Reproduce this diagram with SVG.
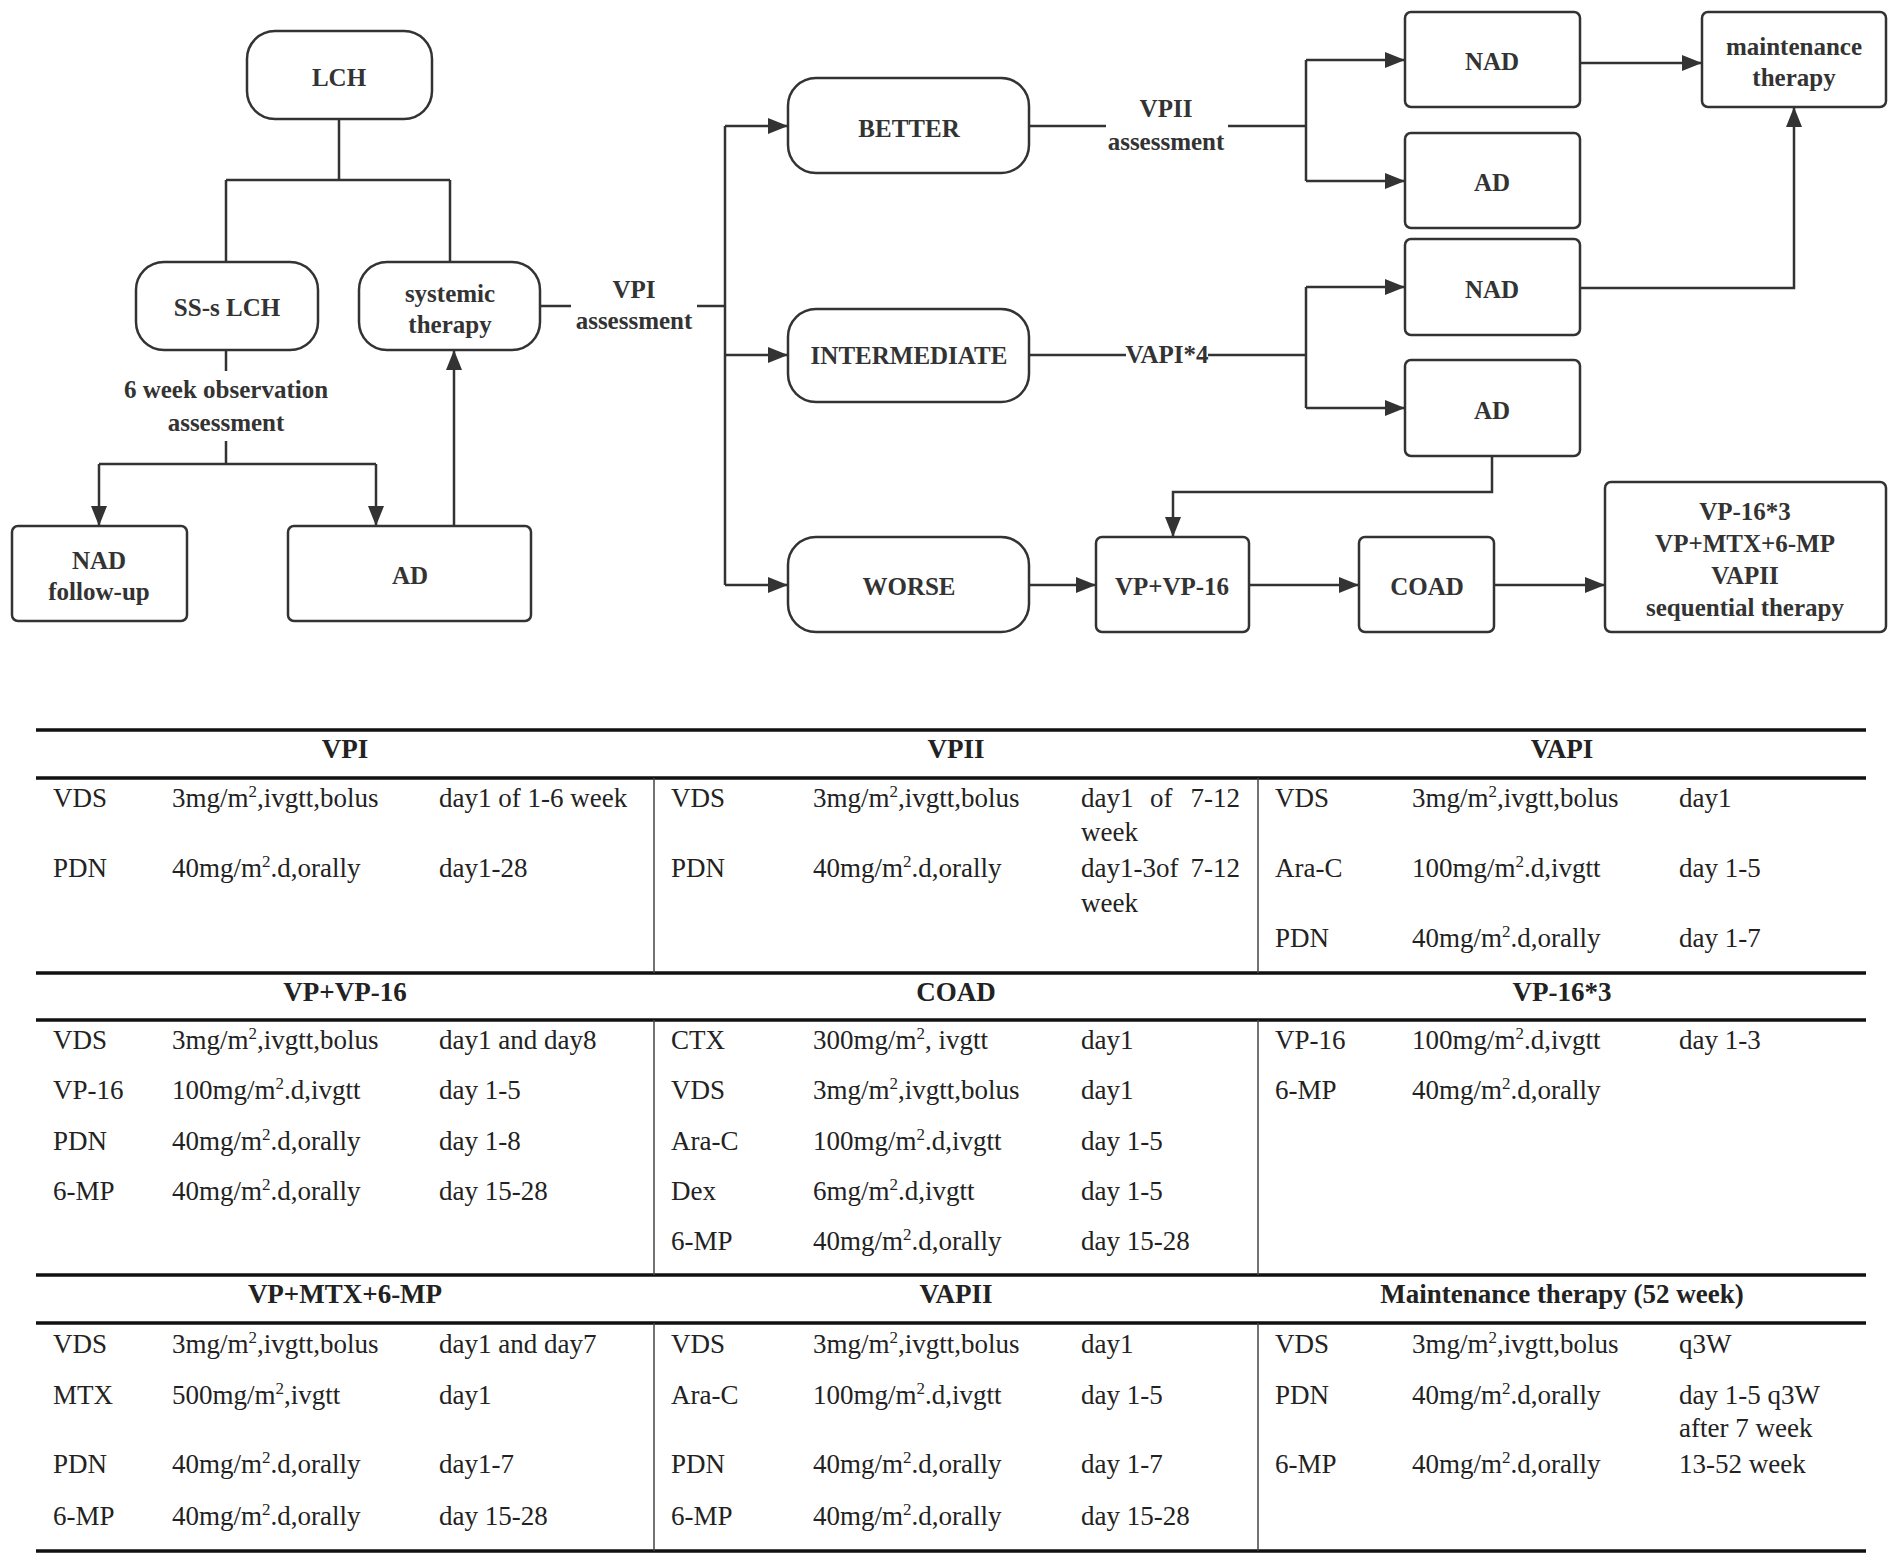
<svg xmlns="http://www.w3.org/2000/svg" width="1902" height="1561" viewBox="0 0 1902 1561">
<style>
.box{fill:#fff;stroke:#333;stroke-width:2.5}
.ft{font-family:"Liberation Serif","Times New Roman",serif;font-weight:bold;font-size:25px;fill:#333;text-anchor:middle}
.conn{stroke:#333;stroke-width:2.5;fill:none}
.arr{marker-end:url(#ah)}
.tb text{font-family:"Liberation Serif","Times New Roman",serif;font-size:27px;fill:#222}
.tb text.th{font-weight:bold;text-anchor:middle}
.tb text.end{text-anchor:end}
.thick{stroke:#111;stroke-width:3.5}
.thin{stroke:#444;stroke-width:1.5}
</style>
<defs>
<marker id="ah" markerUnits="userSpaceOnUse" markerWidth="20" markerHeight="16" refX="20" refY="8" orient="auto">
<path d="M0,0 L20,8 L0,16 z" fill="#333"/>
</marker>
</defs>
<rect width="1902" height="1561" fill="#fff"/>

<g id="connectors">
<path class="conn" d="M339,119 V180 M226,180 H450 M226,180 V262 M450,180 V262"/>
<path class="conn" d="M226,350 V371 M226,441 V464 M99,464 H376"/>
<path class="conn arr" d="M99,464 V526"/>
<path class="conn arr" d="M376,464 V526"/>
<path class="conn arr" d="M454,526 V350"/>
<path class="conn" d="M540,306 H571 M697,306 H725 M725,126 V585"/>
<path class="conn arr" d="M725,126 H788"/>
<path class="conn arr" d="M725,355 H788"/>
<path class="conn arr" d="M725,585 H788"/>
<path class="conn" d="M1029,126 H1106 M1228,126 H1306 M1306,60 V181"/>
<path class="conn arr" d="M1306,60 H1405"/>
<path class="conn arr" d="M1306,181 H1405"/>
<path class="conn arr" d="M1580,63 H1702"/>
<path class="conn arr" d="M1580,288 H1794 V107"/>
<path class="conn" d="M1029,355 H1126 M1208,355 H1306 M1306,287 V408"/>
<path class="conn arr" d="M1306,287 H1405"/>
<path class="conn arr" d="M1306,408 H1405"/>
<path class="conn arr" d="M1492,456 V492 H1173 V537"/>
<path class="conn arr" d="M1029,585 H1096"/>
<path class="conn arr" d="M1249,585 H1359"/>
<path class="conn arr" d="M1494,585 H1605"/>
<text class="ft" x="226" y="398">6 week observation</text>
<text class="ft" x="226" y="431">assessment</text>
<text class="ft" x="634" y="298">VPI</text>
<text class="ft" x="634" y="329">assessment</text>
<text class="ft" x="1166" y="117">VPII</text>
<text class="ft" x="1166" y="150">assessment</text>
<text class="ft" x="1167" y="363">VAPI*4</text>
</g>

<g id="n-lch"><rect class="box" x="247" y="31" width="185" height="88" rx="28"/><text class="ft" x="339" y="86">LCH</text></g>
<g id="n-sslch"><rect class="box" x="136" y="262" width="182" height="88" rx="28"/><text class="ft" x="227" y="316">SS-s LCH</text></g>
<g id="n-systemic"><rect class="box" x="359" y="262" width="181" height="88" rx="28"/><text class="ft" x="450" y="302">systemic</text><text class="ft" x="450" y="333">therapy</text></g>
<g id="n-nad-follow"><rect class="box" x="12" y="526" width="175" height="95" rx="6"/><text class="ft" x="99" y="569">NAD</text><text class="ft" x="99" y="600">follow-up</text></g>
<g id="n-ad-left"><rect class="box" x="288" y="526" width="243" height="95" rx="6"/><text class="ft" x="410" y="584">AD</text></g>
<g id="n-better"><rect class="box" x="788" y="78" width="241" height="95" rx="28"/><text class="ft" x="909" y="137">BETTER</text></g>
<g id="n-intermediate"><rect class="box" x="788" y="309" width="241" height="93" rx="28"/><text class="ft" x="909" y="364">INTERMEDIATE</text></g>
<g id="n-worse"><rect class="box" x="788" y="537" width="241" height="95" rx="28"/><text class="ft" x="909" y="595">WORSE</text></g>
<g id="n-nad1"><rect class="box" x="1405" y="12" width="175" height="95" rx="6"/><text class="ft" x="1492" y="70">NAD</text></g>
<g id="n-ad1"><rect class="box" x="1405" y="133" width="175" height="95" rx="6"/><text class="ft" x="1492" y="191">AD</text></g>
<g id="n-nad2"><rect class="box" x="1405" y="239" width="175" height="96" rx="6"/><text class="ft" x="1492" y="298">NAD</text></g>
<g id="n-ad2"><rect class="box" x="1405" y="360" width="175" height="96" rx="6"/><text class="ft" x="1492" y="419">AD</text></g>
<g id="n-maint"><rect class="box" x="1702" y="12" width="184" height="95" rx="6"/><text class="ft" x="1794" y="55">maintenance</text><text class="ft" x="1794" y="86">therapy</text></g>
<g id="n-vpvp16"><rect class="box" x="1096" y="537" width="153" height="95" rx="6"/><text class="ft" x="1172" y="595">VP+VP-16</text></g>
<g id="n-coad"><rect class="box" x="1359" y="537" width="135" height="95" rx="6"/><text class="ft" x="1427" y="595">COAD</text></g>
<g id="n-seq"><rect class="box" x="1605" y="482" width="281" height="150" rx="6"/><text class="ft" x="1745" y="520">VP-16*3</text><text class="ft" x="1745" y="552">VP+MTX+6-MP</text><text class="ft" x="1745" y="584">VAPII</text><text class="ft" x="1745" y="616">sequential therapy</text></g>

<g id="table" class="tb">
<g id="table-lines">
<path class="thick" d="M36,730 H1866 M36,778 H1866 M36,973 H1866 M36,1020 H1866 M36,1275 H1866 M36,1323 H1866 M36,1551 H1866"/>
<path class="thin" d="M654,778 V973 M1258,778 V973 M654,1020 V1275 M1258,1020 V1275 M654,1323 V1551 M1258,1323 V1551"/>
</g>
<text class="th" x="345" y="758">VPI</text>
<text class="th" x="956" y="758">VPII</text>
<text class="th" x="1562" y="758">VAPI</text>
<text x="53" y="807">VDS</text><text x="172" y="807">3mg/m<tspan dy="-10" font-size="17">2</tspan><tspan dy="10">,ivgtt,bolus</tspan></text><text x="439" y="807">day1 of 1-6 week</text>
<text x="53" y="877">PDN</text><text x="172" y="877">40mg/m<tspan dy="-10" font-size="17">2</tspan><tspan dy="10">.d,orally</tspan></text><text x="439" y="877">day1-28</text>
<text x="671" y="807">VDS</text><text x="813" y="807">3mg/m<tspan dy="-10" font-size="17">2</tspan><tspan dy="10">,ivgtt,bolus</tspan></text><text x="1081" y="807">day1</text><text x="1150" y="807">of</text><text class="end" x="1240" y="807">7-12</text><text x="1081" y="841">week</text>
<text x="671" y="877">PDN</text><text x="813" y="877">40mg/m<tspan dy="-10" font-size="17">2</tspan><tspan dy="10">.d,orally</tspan></text><text x="1081" y="877">day1-3of</text><text class="end" x="1240" y="877">7-12</text><text x="1081" y="912">week</text>
<text x="1275" y="807">VDS</text><text x="1412" y="807">3mg/m<tspan dy="-10" font-size="17">2</tspan><tspan dy="10">,ivgtt,bolus</tspan></text><text x="1679" y="807">day1</text>
<text x="1275" y="877">Ara-C</text><text x="1412" y="877">100mg/m<tspan dy="-10" font-size="17">2</tspan><tspan dy="10">.d,ivgtt</tspan></text><text x="1679" y="877">day 1-5</text>
<text x="1275" y="947">PDN</text><text x="1412" y="947">40mg/m<tspan dy="-10" font-size="17">2</tspan><tspan dy="10">.d,orally</tspan></text><text x="1679" y="947">day 1-7</text>

<text class="th" x="345" y="1001">VP+VP-16</text>
<text class="th" x="956" y="1001">COAD</text>
<text class="th" x="1562" y="1001">VP-16*3</text>
<text x="53" y="1049">VDS</text><text x="172" y="1049">3mg/m<tspan dy="-10" font-size="17">2</tspan><tspan dy="10">,ivgtt,bolus</tspan></text><text x="439" y="1049">day1 and day8</text>
<text x="53" y="1099">VP-16</text><text x="172" y="1099">100mg/m<tspan dy="-10" font-size="17">2</tspan><tspan dy="10">.d,ivgtt</tspan></text><text x="439" y="1099">day 1-5</text>
<text x="53" y="1150">PDN</text><text x="172" y="1150">40mg/m<tspan dy="-10" font-size="17">2</tspan><tspan dy="10">.d,orally</tspan></text><text x="439" y="1150">day 1-8</text>
<text x="53" y="1200">6-MP</text><text x="172" y="1200">40mg/m<tspan dy="-10" font-size="17">2</tspan><tspan dy="10">.d,orally</tspan></text><text x="439" y="1200">day 15-28</text>
<text x="671" y="1049">CTX</text><text x="813" y="1049">300mg/m<tspan dy="-10" font-size="17">2</tspan><tspan dy="10">, ivgtt</tspan></text><text x="1081" y="1049">day1</text>
<text x="671" y="1099">VDS</text><text x="813" y="1099">3mg/m<tspan dy="-10" font-size="17">2</tspan><tspan dy="10">,ivgtt,bolus</tspan></text><text x="1081" y="1099">day1</text>
<text x="671" y="1150">Ara-C</text><text x="813" y="1150">100mg/m<tspan dy="-10" font-size="17">2</tspan><tspan dy="10">.d,ivgtt</tspan></text><text x="1081" y="1150">day 1-5</text>
<text x="671" y="1200">Dex</text><text x="813" y="1200">6mg/m<tspan dy="-10" font-size="17">2</tspan><tspan dy="10">.d,ivgtt</tspan></text><text x="1081" y="1200">day 1-5</text>
<text x="671" y="1250">6-MP</text><text x="813" y="1250">40mg/m<tspan dy="-10" font-size="17">2</tspan><tspan dy="10">.d,orally</tspan></text><text x="1081" y="1250">day 15-28</text>
<text x="1275" y="1049">VP-16</text><text x="1412" y="1049">100mg/m<tspan dy="-10" font-size="17">2</tspan><tspan dy="10">.d,ivgtt</tspan></text><text x="1679" y="1049">day 1-3</text>
<text x="1275" y="1099">6-MP</text><text x="1412" y="1099">40mg/m<tspan dy="-10" font-size="17">2</tspan><tspan dy="10">.d,orally</tspan></text>

<text class="th" x="345" y="1303">VP+MTX+6-MP</text>
<text class="th" x="956" y="1303">VAPII</text>
<text class="th" x="1562" y="1303">Maintenance therapy (52 week)</text>
<text x="53" y="1353">VDS</text><text x="172" y="1353">3mg/m<tspan dy="-10" font-size="17">2</tspan><tspan dy="10">,ivgtt,bolus</tspan></text><text x="439" y="1353">day1 and day7</text>
<text x="53" y="1404">MTX</text><text x="172" y="1404">500mg/m<tspan dy="-10" font-size="17">2</tspan><tspan dy="10">,ivgtt</tspan></text><text x="439" y="1404">day1</text>
<text x="53" y="1473">PDN</text><text x="172" y="1473">40mg/m<tspan dy="-10" font-size="17">2</tspan><tspan dy="10">.d,orally</tspan></text><text x="439" y="1473">day1-7</text>
<text x="53" y="1525">6-MP</text><text x="172" y="1525">40mg/m<tspan dy="-10" font-size="17">2</tspan><tspan dy="10">.d,orally</tspan></text><text x="439" y="1525">day 15-28</text>
<text x="671" y="1353">VDS</text><text x="813" y="1353">3mg/m<tspan dy="-10" font-size="17">2</tspan><tspan dy="10">,ivgtt,bolus</tspan></text><text x="1081" y="1353">day1</text>
<text x="671" y="1404">Ara-C</text><text x="813" y="1404">100mg/m<tspan dy="-10" font-size="17">2</tspan><tspan dy="10">.d,ivgtt</tspan></text><text x="1081" y="1404">day 1-5</text>
<text x="671" y="1473">PDN</text><text x="813" y="1473">40mg/m<tspan dy="-10" font-size="17">2</tspan><tspan dy="10">.d,orally</tspan></text><text x="1081" y="1473">day 1-7</text>
<text x="671" y="1525">6-MP</text><text x="813" y="1525">40mg/m<tspan dy="-10" font-size="17">2</tspan><tspan dy="10">.d,orally</tspan></text><text x="1081" y="1525">day 15-28</text>
<text x="1275" y="1353">VDS</text><text x="1412" y="1353">3mg/m<tspan dy="-10" font-size="17">2</tspan><tspan dy="10">,ivgtt,bolus</tspan></text><text x="1679" y="1353">q3W</text>
<text x="1275" y="1404">PDN</text><text x="1412" y="1404">40mg/m<tspan dy="-10" font-size="17">2</tspan><tspan dy="10">.d,orally</tspan></text><text x="1679" y="1404">day 1-5 q3W</text><text x="1679" y="1437">after 7 week</text>
<text x="1275" y="1473">6-MP</text><text x="1412" y="1473">40mg/m<tspan dy="-10" font-size="17">2</tspan><tspan dy="10">.d,orally</tspan></text><text x="1679" y="1473">13-52 week</text>
</g>
</svg>
